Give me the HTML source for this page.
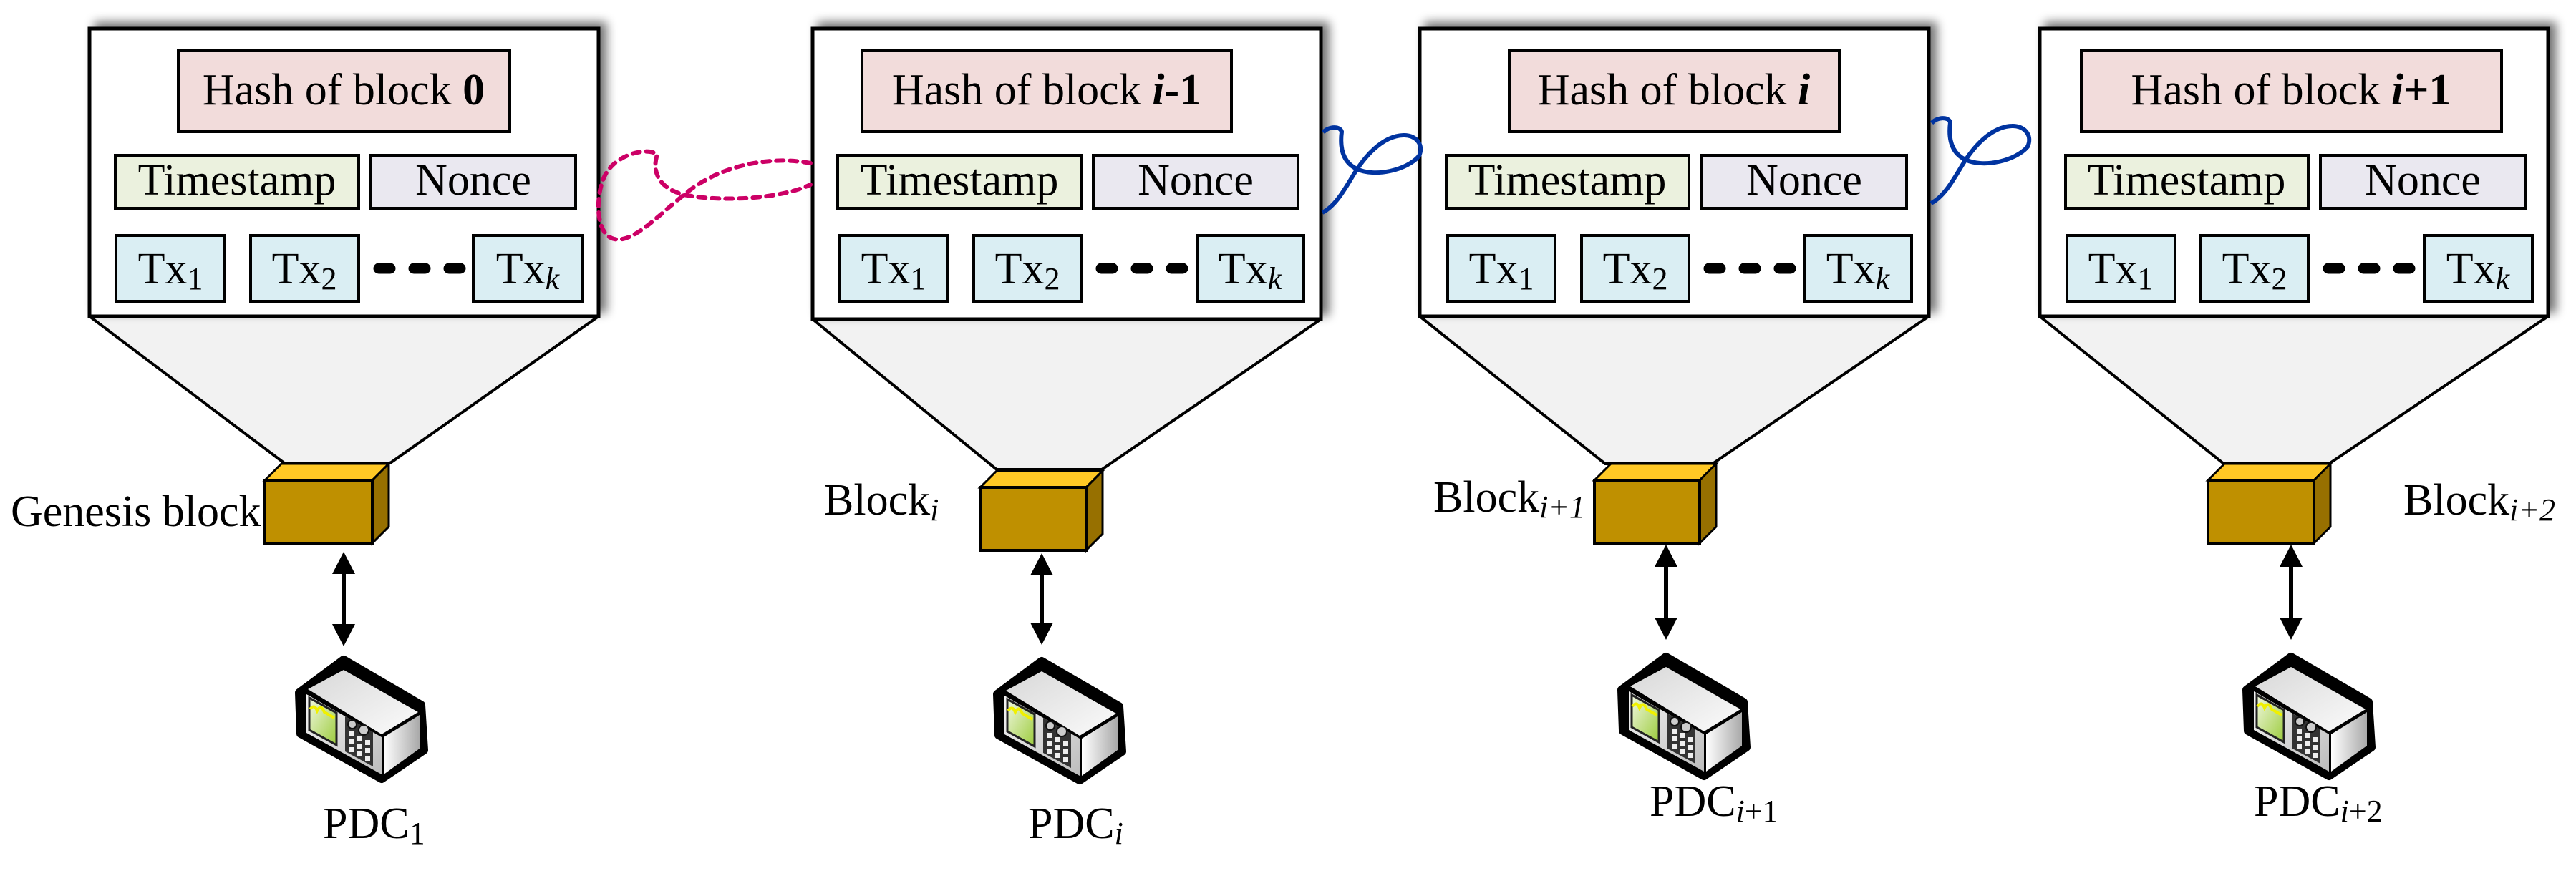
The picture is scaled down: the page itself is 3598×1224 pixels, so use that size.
<!DOCTYPE html>
<html><head><meta charset="utf-8"><style>
html,body{margin:0;padding:0;background:#fff;}
svg{display:block;}
text{font-family:"Liberation Serif",serif;font-size:62px;fill:#000;}
</style></head><body>
<svg width="3598" height="1224" viewBox="0 0 3598 1224" xmlns="http://www.w3.org/2000/svg">
<defs>
<filter id="sh" x="-10%" y="-10%" width="120%" height="120%">
<feGaussianBlur in="SourceAlpha" stdDeviation="7"/>
<feOffset dx="9" dy="-7" result="b"/>
<feComponentTransfer><feFuncA type="linear" slope="0.55"/></feComponentTransfer>
<feMerge><feMergeNode/><feMergeNode in="SourceGraphic"/></feMerge>
</filter>
<linearGradient id="fr" x1="0" y1="0" x2="1" y2="1"><stop offset="0" stop-color="#f4f4f4"/><stop offset="1" stop-color="#bdbdbd"/></linearGradient>
<linearGradient id="rt" x1="0" y1="0" x2="1" y2="0"><stop offset="0" stop-color="#ffffff"/><stop offset="1" stop-color="#a9a9a9"/></linearGradient>
<linearGradient id="tp" x1="0" y1="0" x2="1" y2="1"><stop offset="0" stop-color="#d8d8d8"/><stop offset="1" stop-color="#fbfbfb"/></linearGradient>
<linearGradient id="scr" x1="0" y1="0" x2="1" y2="1"><stop offset="0" stop-color="#f0f7e0"/><stop offset="1" stop-color="#9ccc3c"/></linearGradient>
<g id="pdc">
<polygon points="480,922 588,985 592,1048 533,1088 420,1025 418,968" fill="#000" stroke="#000" stroke-width="12" stroke-linejoin="round"/>
<polygon points="430,963 480,936 584,995 533,1026" fill="url(#tp)"/>
<polygon points="428,970 533,1030 533,1082 428,1024" fill="url(#fr)"/>
<polygon points="536,1030 586,999 586,1046 536,1082" fill="url(#rt)"/>
<polygon points="432,975 470,996 470,1041 432,1020" fill="url(#scr)" stroke="#222" stroke-width="3"/>
<path d="M433,991 q6,-8 10,2 q5,-10 10,2 l14,8" stroke="#f0f000" stroke-width="4" fill="none"/>
<polygon points="482,1001 521,1023 521,1071 482,1050" fill="#333"/>
<g fill="#eee"><rect x="488" y="1022" width="7" height="7"/><rect x="499" y="1028" width="7" height="7"/><rect x="510" y="1034" width="7" height="7"/><rect x="488" y="1033" width="7" height="7"/><rect x="499" y="1039" width="7" height="7"/><rect x="510" y="1045" width="7" height="7"/><rect x="488" y="1044" width="7" height="7"/><rect x="499" y="1050" width="7" height="7"/><rect x="510" y="1056" width="7" height="7"/></g>
<circle cx="492" cy="1012" r="6" fill="#ccc" stroke="#111" stroke-width="2"/><circle cx="508" cy="1020" r="7" fill="#ccc" stroke="#111" stroke-width="2"/>
</g>
<g id="blue">
<path d="M1848,185 C1856,176 1872,176 1874,184 C1872,200 1872,225 1895,236 C1920,248 1965,238 1982,218 C1990,200 1975,188 1960,189 C1930,190 1905,220 1890,245 C1878,265 1865,288 1847,297" fill="none" stroke="#0033a0" stroke-width="6"/>
</g>
</defs>

<!-- ===== Block 0 ===== -->
<polygon points="125,442 397,647 545,647 836,442" fill="#f2f2f2" stroke="#000" stroke-width="4" stroke-linejoin="round"/>
<rect x="125" y="40" width="711" height="402" fill="#fff" stroke="#000" stroke-width="5" filter="url(#sh)"/>
<rect x="249" y="70" width="463" height="114" fill="#f2dcdb" stroke="#000" stroke-width="4"/>
<text x="480" y="146" text-anchor="middle">Hash of block <tspan font-weight="bold">0</tspan></text>
<rect x="161" y="217" width="340" height="74" fill="#ebf1de" stroke="#000" stroke-width="4"/>
<text x="331" y="272" text-anchor="middle">Timestamp</text>
<rect x="518" y="217" width="286" height="74" fill="#eae8f0" stroke="#000" stroke-width="4"/>
<text x="661" y="272" text-anchor="middle">Nonce</text>
<rect x="162" y="329" width="152" height="92" fill="#daeef3" stroke="#000" stroke-width="4"/>
<text x="238" y="396" text-anchor="middle">Tx<tspan font-size="44" dy="8">1</tspan></text>
<rect x="350" y="329" width="151" height="92" fill="#daeef3" stroke="#000" stroke-width="4"/>
<text x="425" y="396" text-anchor="middle">Tx<tspan font-size="44" dy="8">2</tspan></text>
<rect x="661" y="329" width="152" height="92" fill="#daeef3" stroke="#000" stroke-width="4"/>
<text x="737" y="396" text-anchor="middle">Tx<tspan font-size="44" font-style="italic" dy="8">k</tspan></text>
<path d="M529,375h16M578,375h16M627,375h16" stroke="#000" stroke-width="15" stroke-linecap="round"/>
<polygon points="370,671 393,648 543,648 520,671" fill="#ffc825" stroke="#000" stroke-width="3"/>
<polygon points="520,671 543,648 543,736 520,759" fill="#977000" stroke="#000" stroke-width="3"/>
<rect x="370" y="671" width="150" height="88" fill="#bf9000" stroke="#000" stroke-width="4"/>
<text x="15" y="735">Genesis block</text>
<line x1="480" y1="795" x2="480" y2="880" stroke="#000" stroke-width="6"/>
<polygon points="480,771 464,802 496,802" fill="#000"/><polygon points="480,903 464,872 496,872" fill="#000"/>
<use href="#pdc"/>
<text x="451" y="1171">PDC<tspan font-size="44" dy="8">1</tspan></text>

<!-- ===== Block i ===== -->
<polygon points="1135,446 1392,656 1539,656 1845,446" fill="#f2f2f2" stroke="#000" stroke-width="4" stroke-linejoin="round"/>
<rect x="1135" y="40" width="710" height="406" fill="#fff" stroke="#000" stroke-width="5" filter="url(#sh)"/>
<rect x="1204" y="70" width="516" height="114" fill="#f2dcdb" stroke="#000" stroke-width="4"/>
<text x="1462" y="146" text-anchor="middle">Hash of block <tspan font-weight="bold" font-style="italic">i</tspan><tspan font-weight="bold">-1</tspan></text>
<rect x="1170" y="217" width="340" height="74" fill="#ebf1de" stroke="#000" stroke-width="4"/>
<text x="1340" y="272" text-anchor="middle">Timestamp</text>
<rect x="1527" y="217" width="286" height="74" fill="#eae8f0" stroke="#000" stroke-width="4"/>
<text x="1670" y="272" text-anchor="middle">Nonce</text>
<rect x="1173" y="329" width="151" height="92" fill="#daeef3" stroke="#000" stroke-width="4"/>
<text x="1248" y="396" text-anchor="middle">Tx<tspan font-size="44" dy="8">1</tspan></text>
<rect x="1360" y="329" width="150" height="92" fill="#daeef3" stroke="#000" stroke-width="4"/>
<text x="1435" y="396" text-anchor="middle">Tx<tspan font-size="44" dy="8">2</tspan></text>
<rect x="1672" y="329" width="149" height="92" fill="#daeef3" stroke="#000" stroke-width="4"/>
<text x="1746" y="396" text-anchor="middle">Tx<tspan font-size="44" font-style="italic" dy="8">k</tspan></text>
<path d="M1538,375h16M1587,375h16M1636,375h16" stroke="#000" stroke-width="15" stroke-linecap="round"/>
<polygon points="1369,681 1392,658 1540,658 1517,681" fill="#ffc825" stroke="#000" stroke-width="3"/>
<polygon points="1517,681 1540,658 1540,746 1517,769" fill="#977000" stroke="#000" stroke-width="3"/>
<rect x="1369" y="681" width="148" height="88" fill="#bf9000" stroke="#000" stroke-width="4"/>
<text x="1151" y="719">Block<tspan font-size="44" font-style="italic" dy="8">i</tspan></text>
<line x1="1455" y1="797" x2="1455" y2="878" stroke="#000" stroke-width="6"/>
<polygon points="1455,773 1439,804 1471,804" fill="#000"/><polygon points="1455,901 1439,870 1471,870" fill="#000"/>
<use href="#pdc" transform="translate(975,2)"/>
<text x="1436" y="1171">PDC<tspan font-size="44" font-style="italic" dy="8">i</tspan></text>

<!-- ===== Block i+1 ===== -->
<polygon points="1983,442 2242,648 2392,648 2694,442" fill="#f2f2f2" stroke="#000" stroke-width="4" stroke-linejoin="round"/>
<rect x="1983" y="40" width="711" height="402" fill="#fff" stroke="#000" stroke-width="5" filter="url(#sh)"/>
<rect x="2108" y="70" width="461" height="114" fill="#f2dcdb" stroke="#000" stroke-width="4"/>
<text x="2338" y="146" text-anchor="middle">Hash of block <tspan font-weight="bold" font-style="italic">i</tspan></text>
<rect x="2020" y="217" width="339" height="74" fill="#ebf1de" stroke="#000" stroke-width="4"/>
<text x="2189" y="272" text-anchor="middle">Timestamp</text>
<rect x="2377" y="217" width="286" height="74" fill="#eae8f0" stroke="#000" stroke-width="4"/>
<text x="2520" y="272" text-anchor="middle">Nonce</text>
<rect x="2022" y="329" width="150" height="92" fill="#daeef3" stroke="#000" stroke-width="4"/>
<text x="2097" y="396" text-anchor="middle">Tx<tspan font-size="44" dy="8">1</tspan></text>
<rect x="2209" y="329" width="150" height="92" fill="#daeef3" stroke="#000" stroke-width="4"/>
<text x="2284" y="396" text-anchor="middle">Tx<tspan font-size="44" dy="8">2</tspan></text>
<rect x="2521" y="329" width="149" height="92" fill="#daeef3" stroke="#000" stroke-width="4"/>
<text x="2595" y="396" text-anchor="middle">Tx<tspan font-size="44" font-style="italic" dy="8">k</tspan></text>
<path d="M2387,375h16M2436,375h16M2485,375h16" stroke="#000" stroke-width="15" stroke-linecap="round"/>
<polygon points="2227,671 2250,648 2397,648 2374,671" fill="#ffc825" stroke="#000" stroke-width="3"/>
<polygon points="2374,671 2397,648 2397,736 2374,759" fill="#977000" stroke="#000" stroke-width="3"/>
<rect x="2227" y="671" width="147" height="88" fill="#bf9000" stroke="#000" stroke-width="4"/>
<text x="2002" y="715">Block<tspan font-size="44" font-style="italic" dy="8">i+1</tspan></text>
<line x1="2327" y1="785" x2="2327" y2="870" stroke="#000" stroke-width="6"/>
<polygon points="2327,761 2311,792 2343,792" fill="#000"/><polygon points="2327,894 2311,863 2343,863" fill="#000"/>
<use href="#pdc" transform="translate(1847,-4)"/>
<text x="2304" y="1140">PDC<tspan font-size="44" dy="8"><tspan font-style="italic">i</tspan>+1</tspan></text>

<!-- ===== Block i+2 ===== -->
<polygon points="2849,442 3106,648 3253,648 3559,442" fill="#f2f2f2" stroke="#000" stroke-width="4" stroke-linejoin="round"/>
<rect x="2849" y="40" width="710" height="402" fill="#fff" stroke="#000" stroke-width="5" filter="url(#sh)"/>
<rect x="2907" y="70" width="587" height="114" fill="#f2dcdb" stroke="#000" stroke-width="4"/>
<text x="3200" y="146" text-anchor="middle">Hash of block <tspan font-weight="bold" font-style="italic">i</tspan><tspan font-weight="bold">+1</tspan></text>
<rect x="2885" y="217" width="339" height="74" fill="#ebf1de" stroke="#000" stroke-width="4"/>
<text x="3054" y="272" text-anchor="middle">Timestamp</text>
<rect x="3241" y="217" width="286" height="74" fill="#eae8f0" stroke="#000" stroke-width="4"/>
<text x="3384" y="272" text-anchor="middle">Nonce</text>
<rect x="2887" y="329" width="151" height="92" fill="#daeef3" stroke="#000" stroke-width="4"/>
<text x="2962" y="396" text-anchor="middle">Tx<tspan font-size="44" dy="8">1</tspan></text>
<rect x="3074" y="329" width="150" height="92" fill="#daeef3" stroke="#000" stroke-width="4"/>
<text x="3149" y="396" text-anchor="middle">Tx<tspan font-size="44" dy="8">2</tspan></text>
<rect x="3386" y="329" width="151" height="92" fill="#daeef3" stroke="#000" stroke-width="4"/>
<text x="3461" y="396" text-anchor="middle">Tx<tspan font-size="44" font-style="italic" dy="8">k</tspan></text>
<path d="M3252,375h16M3301,375h16M3350,375h16" stroke="#000" stroke-width="15" stroke-linecap="round"/>
<polygon points="3084,671 3107,648 3255,648 3232,671" fill="#ffc825" stroke="#000" stroke-width="3"/>
<polygon points="3232,671 3255,648 3255,736 3232,759" fill="#977000" stroke="#000" stroke-width="3"/>
<rect x="3084" y="671" width="148" height="88" fill="#bf9000" stroke="#000" stroke-width="4"/>
<text x="3357" y="719">Block<tspan font-size="44" font-style="italic" dy="8">i+2</tspan></text>
<line x1="3200" y1="785" x2="3200" y2="870" stroke="#000" stroke-width="6"/>
<polygon points="3200,761 3184,792 3216,792" fill="#000"/><polygon points="3200,894 3184,863 3216,863" fill="#000"/>
<use href="#pdc" transform="translate(2720,-4)"/>
<text x="3148" y="1140">PDC<tspan font-size="44" dy="8"><tspan font-style="italic">i</tspan>+2</tspan></text>

<!-- ===== links ===== -->
<path d="M1132,228 C1080,218 1010,228 958,270 C920,300 885,340 858,334 C830,328 832,270 845,245 C860,215 905,205 918,216 C910,240 920,265 960,273 C1010,282 1090,278 1132,258" fill="none" stroke="#cc0066" stroke-width="6" stroke-dasharray="10,9" stroke-linecap="round"/>
<use href="#blue"/>
<use href="#blue" transform="translate(850,-13)"/>
</svg>
</body></html>
